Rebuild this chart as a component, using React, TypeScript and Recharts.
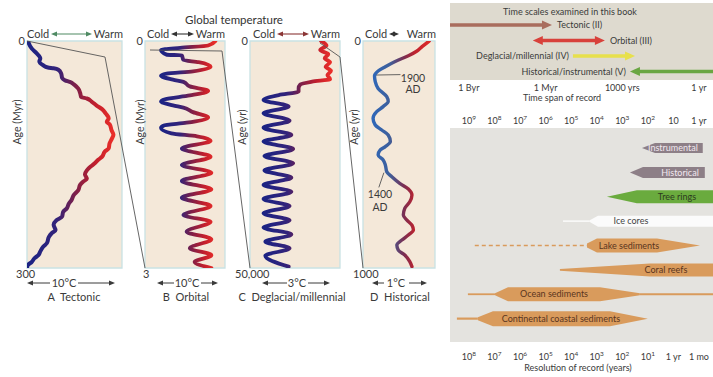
import React from 'react';
import { LineChart, Line, XAxis, YAxis, ReferenceArea, ReferenceLine, BarChart, Bar } from 'recharts';

const FONT = 'Lato, "Open Sans", "DejaVu Sans", sans-serif';
const INK = '#3a3a3a';
const AXW = 30;

// ---------- Left: global temperature panels ----------
const tectonicAge = [0, 10, 16, 23, 27, 32, 35, 36, 38, 43, 49, 52, 54, 58, 63, 69, 74, 76, 80, 85, 90, 96, 102, 107, 110, 118, 124, 130, 135, 142, 146, 153, 157, 162, 166, 171, 176, 182, 186, 190, 197, 204, 210, 215, 221, 226, 232, 237, 243, 250, 254, 259, 267, 272, 278, 283, 287, 292, 296, 300];
const tectonicTemp = [1, 5, 10, 14, 13, 17, 22, 28, 33, 36, 37, 40, 45, 50, 54, 56, 57, 63, 68, 73, 79, 83, 86, 84, 87, 89, 91, 89, 87, 86, 82, 79, 75, 71, 67, 63, 61, 63, 59, 56, 54, 49, 47, 44, 42, 38, 37, 31, 28, 30, 26, 23, 21, 17, 14, 12, 8, 5, 1, 0];

const orbitalAge = [0, 0.06, 0.09, 0.12, 0.18, 0.19, 0.25, 0.28, 0.34, 0.40, 0.43, 0.46, 0.51, 0.54, 0.60, 0.66, 0.72, 0.77, 0.80, 0.85, 0.88, 0.94, 1.01, 1.08, 1.12, 1.15, 1.22, 1.26, 1.32, 1.42, 1.53, 1.64, 1.74, 1.85, 1.96, 2.07, 2.18, 2.30, 2.39, 2.52, 2.62, 2.74, 2.83, 2.92, 3.0];
const orbitalTemp = [88, 79, 44, 20, 27, 46, 48, 67, 82, 60, 27, 20, 35, 48, 56, 79, 56, 25, 20, 35, 48, 60, 79, 52, 23, 20, 33, 65, 82, 46, 82, 46, 83, 46, 83, 46, 82, 48, 82, 52, 83, 56, 83, 62, 83];

const deglacialAge = [0, 1000, 2000, 2900, 3800, 4700, 5650, 6550, 7500, 8400, 8950, 9550, 10400, 11150, 11900, 13000, 14400, 15900, 17550, 19100, 20700, 22150, 23800, 25350, 26950, 28500, 30100, 31700, 33200, 34800, 36350, 37950, 39500, 41100, 42600, 44200, 45650, 47300, 49700];
const deglacialTemp = [79, 85, 78, 87, 83, 89, 84, 90, 86, 89, 69, 56, 54, 54, 32, 15, 43, 15, 44, 15, 46, 15, 48, 16, 48, 16, 46, 15, 46, 15, 44, 15, 44, 15, 46, 17, 44, 17, 43];

const historicalAge = [0, 25, 44, 65, 91, 113, 132, 153, 179, 209, 245, 267, 289, 311, 341, 370, 392, 414, 443, 465, 480, 502, 524, 546, 576, 598, 627, 652, 678, 708, 737, 767, 789, 811, 833, 855, 877, 899, 921, 943, 972, 994];
const historicalTemp = [92, 82, 75, 63, 44, 31, 21, 16, 17, 21, 33, 35, 28, 19, 14, 17, 26, 35, 38, 31, 24, 21, 28, 31, 33, 40, 51, 63, 68, 65, 58, 56, 61, 68, 70, 63, 54, 47, 49, 58, 65, 68];

const zip = (ages: number[], temps: number[]) => ages.map((age, i) => ({ age, temp: temps[i] }));

const warmStops = [
  ['0%', '#1b2384'], ['35%', '#33237a'], ['55%', '#7a1f4a'], ['80%', '#c41f2c'], ['100%', '#ea2f2a'],
];
const histStops = [
  ['0%', '#2f67b8'], ['30%', '#3f5f9a'], ['55%', '#7a2e52'], ['75%', '#c0232e'], ['100%', '#dc2a2a'],
];

const panels = [
  { id: 'A', left: 27, width: 95, max: 300, endLabel: '300', endDx: -11, data: zip(tectonicAge, tectonicTemp), stops: warmStops, sw: 4 },
  { id: 'B', left: 145, width: 80, max: 3, endLabel: '3', endDx: -2, data: zip(orbitalAge, orbitalTemp), stops: warmStops, sw: 3.8 },
  { id: 'C', left: 250, width: 90, max: 50000, endLabel: '50,000', endDx: -15, data: zip(deglacialAge, deglacialTemp), stops: warmStops, sw: 3.8 },
  { id: 'D', left: 363, width: 72, max: 1000, endLabel: '1000', endDx: -10, data: zip(historicalAge, historicalTemp), stops: histStops, sw: 3.4 },
];

const headers = [
  { cold: 27, warm: 123, a1: 51, a2: 92, color: '#4f8a63' },
  { cold: 147, warm: 225, a1: 171, a2: 194, color: '#333' },
  { cold: 253, warm: 340, a1: 277, a2: 309, color: '#8b3535' },
  { cold: 365, warm: 436, a1: 389, a2: 399, color: '#333' },
];
const footers = [
  { text: '10°C', cx: 64, l1: 27, l2: 50, r1: 78, r2: 115, name: 'A  Tectonic', ncx: 74 },
  { text: '10°C', cx: 187, l1: 157, l2: 174, r1: 201, r2: 218, name: 'B  Orbital', ncx: 186 },
  { text: '3°C', cx: 297, l1: 262, l2: 287, r1: 308, r2: 330, name: 'C  Deglacial/millennial', ncx: 292 },
  { text: '1°C', cx: 396, l1: 372, l2: 384, r1: 409, r2: 427, name: 'D  Historical', ncx: 400 },
];
const ageLabels = [
  { text: 'Age (Myr)', x: 18, y: 122 },
  { text: 'Age (Myr)', x: 141, y: 122 },
  { text: 'Age (yr)', x: 243, y: 127 },
  { text: 'Age (yr)', x: 355, y: 127 },
];

// ---------- Right top: time scales ----------
const timeScaleNames = ['Tectonic (II)', 'Orbital (III)', 'Deglacial/millennial (IV)', 'Historical/instrumental (V)'];
const timeScaleFrom = [-0.74, 2.5, 4.07, 6.3];
const timeScaleTo = [3.25, 5.32, 6.5, 9.55];
const timeScaleHeads = ['end', 'both', 'end', 'start'];
const timeScaleColors = ['#a96d5e', '#d8413b', '#e7e04c', '#6aa642'];
const timeScaleLabelSide = ['right', 'right', 'left', 'left'];
const spanTickPos = [0, 3, 6, 9];
const spanTickLabels = ['1 Byr', '1 Myr', '1000 yrs', '1 yr'];

const timeScaleRows = timeScaleNames.map((name, i) => ({
  name,
  span: [timeScaleFrom[i], timeScaleTo[i]],
  heads: timeScaleHeads[i],
  color: timeScaleColors[i],
  side: timeScaleLabelSide[i],
}));

// ---------- Right bottom: records ----------
const recordNames = ['Instrumental', 'Historical', 'Tree rings', 'Ice cores', 'Lake sediments', 'Coral reefs', 'Ocean sediments', 'Continental coastal sediments'];
const recordLineStart = [6.77, 6.3, 5.4, 3.68, 0.23, 3.56, -0.04, -0.47];
const recordTaperStart = [6.77, 6.3, 5.4, 4.73, 4.62, 3.56, 1.02, 0.35];
const recordFullStart = [7.28, 6.81, 6.57, 5.05, 5.01, 7.08, 1.53, 0.94];
const recordFullEnd = [9.15, 9.23, 9.55, 9.55, 7.36, 9.55, 5.13, 5.52];
const recordTaperEnd = [9.15, 9.23, 9.55, 9.55, 9.04, 9.55, 6.69, 7.0];
const recordLineEnd = [9.15, 9.23, 9.55, 9.55, 9.04, 9.55, 9.55, 7.0];
const recordLabelAt = [7.98, 8.26, 8.14, 6.34, 6.26, 7.71, 3.33, 3.6];

const decadeTicks = [0, 1, 2, 3, 4, 5, 6, 7, 8, 9];
const spanDecadeLabels = ['10^9', '10^8', '10^7', '10^6', '10^5', '10^4', '10^3', '10^2', '10', '1 yr'];
const resolutionLabels = ['10^8', '10^7', '10^6', '10^5', '10^4', '10^3', '10^2', '10^1', '1 yr', '1 mo'];

const recordStyle: Record<string, any> = {
  'Instrumental': { fill: '#8d7f87', text: '#f1e8ef', half: 5, startHalf: 0, endHalf: 5 },
  'Historical': { fill: '#8d7f87', text: '#f1e8ef', half: 5.5, startHalf: 0, endHalf: 5.5 },
  'Tree rings': { fill: '#6aab3e', text: '#2c3a1e', half: 6.5, startHalf: 0, endHalf: 6.5 },
  'Ice cores': { fill: '#fbfbfb', text: '#444', half: 5.5, startHalf: 0.8, endHalf: 5.5, line: 1.5 },
  'Lake sediments': { fill: '#d99b5c', text: '#5a3520', half: 7, startHalf: 2, endHalf: 0, line: 1.3, dash: '4 3' },
  'Coral reefs': { fill: '#d99b5c', text: '#5a3520', half: 6.5, startHalf: 0.8, endHalf: 6.5 },
  'Ocean sediments': { fill: '#d99b5c', text: '#5a3520', half: 7, startHalf: 1, endHalf: 1, line: 1.8 },
  'Continental coastal sediments': { fill: '#d99b5c', text: '#5a3520', half: 7.5, startHalf: 1.5, endHalf: 0, line: 2.2 },
};

const recordRows = recordNames.map((name, i) => ({
  name,
  range: [recordLineStart[i], recordLineEnd[i]],
  b: recordTaperStart[i],
  c: recordFullStart[i],
  d: recordFullEnd[i],
  e: recordTaperEnd[i],
  labelAt: recordLabelAt[i],
}));

const DOMAIN: [number, number] = [-0.74, 9.55];

// ---------- components ----------
const AgeTick = (props: any) => {
  const { y, payload, panel } = props;
  if (payload.value === 0) {
    return <text x={AXW - 2} y={y + 4} textAnchor="end" fontSize={11} fill={INK} fontFamily={FONT}>0</text>;
  }
  return <text x={AXW + panel.endDx} y={y + 10} textAnchor="start" fontSize={11} fill={INK} fontFamily={FONT}>{panel.endLabel}</text>;
};

const ArrowShape = (props: any) => {
  const { x, y, width, height, payload } = props;
  const cy = y + height / 2;
  const x1 = x;
  const x2 = x + width;
  const head = 10, hh = 4.5, sh = 1.8;
  const left = payload.heads === 'start' || payload.heads === 'both';
  const right = payload.heads === 'end' || payload.heads === 'both';
  const pts: number[][] = [];
  if (left) pts.push([x1, cy], [x1 + head, cy - hh], [x1 + head, cy - sh]);
  else pts.push([x1, cy - sh]);
  if (right) pts.push([x2 - head, cy - sh], [x2 - head, cy - hh], [x2, cy], [x2 - head, cy + hh], [x2 - head, cy + sh]);
  else pts.push([x2, cy - sh], [x2, cy + sh]);
  if (left) pts.push([x1 + head, cy + sh], [x1 + head, cy + hh]);
  else pts.push([x1, cy + sh]);
  const isRight = payload.side === 'right';
  return (
    <g>
      <polygon points={pts.map((p) => p.join(',')).join(' ')} fill={payload.color} />
      <text x={isRight ? x2 + 5 : x1 - 4} y={cy + 3} textAnchor={isRight ? 'start' : 'end'} fontSize={9} fill={INK} fontFamily={FONT}>{payload.name}</text>
    </g>
  );
};

const RecordShape = (props: any) => {
  const { x, y, width, height, payload } = props;
  const [a, f] = payload.range;
  const px = (v: number) => x + ((v - a) / (f - a)) * width;
  const cy = y + height / 2;
  const st = recordStyle[payload.name];
  const H = st.half;
  const { b, c, d, e } = payload;
  const pts = [
    [px(b), cy - st.startHalf], [px(c), cy - H], [px(d), cy - H], [px(e), cy - st.endHalf],
    [px(e), cy + st.endHalf], [px(d), cy + H], [px(c), cy + H], [px(b), cy + st.startHalf],
  ];
  return (
    <g>
      {a < b && (
        <line x1={px(a)} x2={px(b)} y1={cy} y2={cy} stroke={st.fill} strokeWidth={st.line || 1.5} strokeDasharray={st.dash} />
      )}
      {e < f && (
        <line x1={px(e)} x2={px(f)} y1={cy} y2={cy} stroke={st.fill} strokeWidth={st.line || 1.5} />
      )}
      <polygon points={pts.map((p) => p.join(',')).join(' ')} fill={st.fill} />
      <text x={px(payload.labelAt)} y={cy + 3.2} textAnchor="middle" fontSize={9} fill={st.text} fontFamily={FONT}>{payload.name}</text>
    </g>
  );
};

const PowerTick = (props: any) => {
  const { x, y, payload, labels, side } = props;
  const label: string = labels[payload.value] ?? '';
  const [base, exp] = label.split('^');
  return (
    <text x={x} y={side === 'top' ? y - 12 : y + 29} textAnchor="middle" fontSize={9} fill={INK} fontFamily={FONT}>
      {base}
      {exp !== undefined && <tspan dy={-4} fontSize={6.5}>{exp}</tspan>}
    </text>
  );
};

const Arrowhead = ({ x, y, dir, color }: any) => {
  const s = dir === 'left' ? 1 : -1;
  return <polygon points={`${x},${y} ${x + s * 6},${y - 2.5} ${x + s * 6},${y + 2.5}`} fill={color} />;
};

function ClimatePanel({ p }: any) {
  return (
    <div style={{ position: 'absolute', left: p.left - AXW, top: 0 }}>
      <LineChart
        layout="vertical"
        width={AXW + p.width + 6}
        height={310}
        data={p.data}
        margin={{ top: 41, right: 6, bottom: 42, left: 0 }}
      >
        <defs>
          <linearGradient id={`grad${p.id}`} x1="0" y1="0" x2="1" y2="0">
            {p.stops.map((s: string[]) => (
              <stop key={s[0]} offset={s[0]} stopColor={s[1]} />
            ))}
          </linearGradient>
        </defs>
        <XAxis type="number" domain={[0, 100]} allowDataOverflow hide />
        <YAxis
          type="number"
          dataKey="age"
          domain={[0, p.max]}
          allowDataOverflow
          ticks={[0, p.max]}
          interval={0}
          width={AXW}
          axisLine={false}
          tickLine={false}
          tick={<AgeTick panel={p} />}
        />
        <ReferenceArea x1={0} x2={100} y1={0} y2={p.max} fill="#f4e8d9" fillOpacity={1} stroke="#c9e2e4" strokeWidth={1.3} />
        {p.id === 'D' && (
          <ReferenceLine segment={[{ x: 17, y: 150 }, { x: 52, y: 148 }]} stroke="#555" strokeWidth={0.9} />
        )}
        {p.id === 'D' && (
          <ReferenceLine segment={[{ x: 22, y: 645 }, { x: 29, y: 580 }]} stroke="#555" strokeWidth={0.9} />
        )}
        <Line
          dataKey="temp"
          type="monotone"
          stroke={`url(#grad${p.id})`}
          strokeWidth={p.sw}
          strokeLinecap="round"
          dot={false}
          activeDot={false}
          isAnimationActive={false}
        />
      </LineChart>
    </div>
  );
}

export default function App() {
  return (
    <div style={{ position: 'absolute', left: 0, top: 0, width: 713, height: 377, background: '#ffffff', fontFamily: FONT, overflow: 'hidden' }}>
      {/* right panel backgrounds */}
      <div style={{ position: 'absolute', left: 450, top: 3, width: 263, height: 77, background: '#dedacf' }} />
      <div style={{ position: 'absolute', left: 450, top: 128, width: 263, height: 214, background: '#e4e3df' }} />

      {panels.map((p) => (
        <ClimatePanel key={p.id} p={p} />
      ))}

      <div style={{ position: 'absolute', left: 450, top: 0 }}>
        <BarChart
          layout="vertical"
          width={263}
          height={110}
          data={timeScaleRows}
          margin={{ top: 17, right: 0, bottom: 1, left: 0 }}
          barCategoryGap={0}
        >
          <XAxis
            type="number"
            domain={DOMAIN}
            allowDataOverflow
            ticks={spanTickPos}
            interval={0}
            tickFormatter={(v: number) => spanTickLabels[spanTickPos.indexOf(v)]}
            axisLine={false}
            tickLine={false}
            tickSize={0}
            tickMargin={6}
            height={30}
            tick={{ fontSize: 9, fill: INK, fontFamily: FONT }}
          />
          <YAxis type="category" dataKey="name" hide />
          <Bar dataKey="span" shape={ArrowShape} isAnimationActive={false} />
        </BarChart>
      </div>

      <div style={{ position: 'absolute', left: 450, top: 105 }}>
        <BarChart
          layout="vertical"
          width={263}
          height={272}
          data={recordRows}
          margin={{ top: 0, right: 0, bottom: 0, left: 0 }}
          barCategoryGap={0}
        >
          <XAxis
            xAxisId="top"
            orientation="top"
            type="number"
            domain={DOMAIN}
            allowDataOverflow
            ticks={decadeTicks}
            interval={0}
            height={31}
            axisLine={false}
            tickLine={false}
            tickSize={0}
            tickMargin={0}
            tick={<PowerTick labels={spanDecadeLabels} side="top" />}
          />
          <XAxis
            xAxisId="bottom"
            orientation="bottom"
            type="number"
            domain={DOMAIN}
            allowDataOverflow
            ticks={decadeTicks}
            interval={0}
            height={46}
            axisLine={false}
            tickLine={false}
            tickSize={0}
            tickMargin={0}
            tick={<PowerTick labels={resolutionLabels} side="bottom" />}
          />
          <YAxis type="category" dataKey="name" hide />
          <Bar xAxisId="top" dataKey="range" shape={RecordShape} isAnimationActive={false} />
        </BarChart>
      </div>

      {/* annotations */}
      <svg width={713} height={377} style={{ position: 'absolute', left: 0, top: 0, pointerEvents: 'none' }} fontFamily={FONT}>
        <polyline points="27,41 105,57 145,268" fill="none" stroke="#555" strokeWidth={0.9} />
        <polyline points="150,50 222,51 250,268" fill="none" stroke="#555" strokeWidth={0.9} />
        <polyline points="320,43 340,57 363,268" fill="none" stroke="#555" strokeWidth={0.9} />

        <text x={234} y={24} textAnchor="middle" fontSize={11.5} fill="#333">Global temperature</text>

        {headers.map((h, i) => (
          <g key={'h' + i}>
            <text x={h.cold} y={38} fontSize={11} fill={INK}>Cold</text>
            <text x={h.warm} y={38} fontSize={11} fill={INK} textAnchor="end">Warm</text>
            <line x1={h.a1 + 3} x2={h.a2 - 3} y1={34} y2={34} stroke={h.color} strokeWidth={1.1} />
            <Arrowhead x={h.a1} y={34} dir="left" color={h.color} />
            <Arrowhead x={h.a2} y={34} dir="right" color={h.color} />
          </g>
        ))}

        {footers.map((f, i) => (
          <g key={'f' + i}>
            <line x1={f.l1 + 3} x2={f.l2} y1={283} y2={283} stroke={INK} strokeWidth={1} />
            <Arrowhead x={f.l1} y={283} dir="left" color={INK} />
            <line x1={f.r1} x2={f.r2 - 3} y1={283} y2={283} stroke={INK} strokeWidth={1} />
            <Arrowhead x={f.r2} y={283} dir="right" color={INK} />
            <text x={f.cx} y={287} textAnchor="middle" fontSize={11} fill={INK}>{f.text}</text>
            <text x={f.ncx} y={301} textAnchor="middle" fontSize={11} fill={INK} style={{ whiteSpace: 'pre' }}>{f.name}</text>
          </g>
        ))}

        {ageLabels.map((a, i) => (
          <text key={'a' + i} transform={`translate(${a.x},${a.y}) rotate(-90)`} textAnchor="middle" dominantBaseline="middle" fontSize={10.5} fill={INK}>{a.text}</text>
        ))}

        <text x={413} y={82} textAnchor="middle" fontSize={10.5} fill={INK}>1900</text>
        <text x={413} y={93} textAnchor="middle" fontSize={10.5} fill={INK}>AD</text>
        <text x={380} y={198} textAnchor="middle" fontSize={10.5} fill={INK}>1400</text>
        <text x={380} y={211} textAnchor="middle" fontSize={10.5} fill={INK}>AD</text>

        <text x={570} y={15} textAnchor="middle" fontSize={9} fill={INK}>Time scales examined in this book</text>
        <text x={562} y={101} textAnchor="middle" fontSize={9} fill={INK}>Time span of record</text>
        <text x={578} y={371} textAnchor="middle" fontSize={9} fill={INK}>Resolution of record (years)</text>
      </svg>
    </div>
  );
}
